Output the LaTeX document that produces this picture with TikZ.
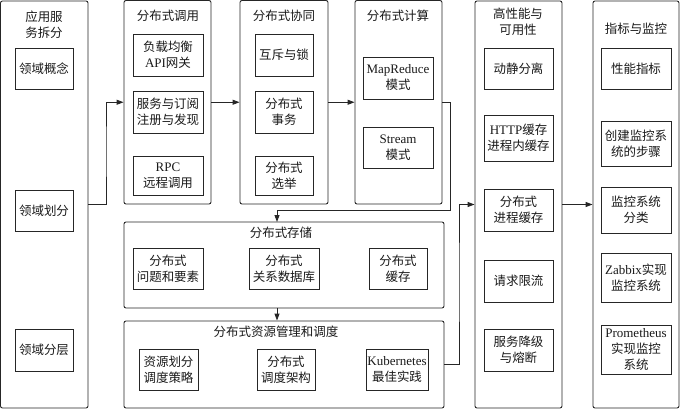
\documentclass[tikz,border=0pt]{standalone}
\usepackage{fontspec}
\setmainfont{Liberation Serif}
\newfontfamily\cjk[Scale=0.96]{Noto Sans CJK SC}
\newcommand\zh[1]{{\cjk #1}}
\usetikzlibrary{arrows.meta}
\begin{document}
\begin{tikzpicture}[x=1pt,y=-1pt,
 line/.style={draw=black!85, line width=0.9pt},
 cont/.style={line, rounded corners=2pt, inner sep=0pt},
 inbox/.style={line, inner sep=0pt, align=center, font=\fontsize{13}{16}\selectfont, text=black!90},
 ttl/.style={inner sep=0pt, align=center, font=\fontsize{13}{16}\selectfont, text=black!90},
 arr/.style={line, -{Triangle[length=7pt,width=5pt]}},
]
\useasboundingbox (0,0) rectangle (680,409);
% containers
\node[cont, minimum width=87.5pt, minimum height=407pt] (c1) at (44.25,204.5) {};
\node[cont, minimum width=87pt, minimum height=203.5pt] (c2) at (167.5,102.25) {};
\node[cont, minimum width=88pt, minimum height=203.5pt] (c3) at (284,102.25) {};
\node[cont, minimum width=87pt, minimum height=203.5pt] (c4) at (398.5,102.25) {};
\node[cont, minimum width=87pt, minimum height=407pt] (c5) at (518.5,204.5) {};
\node[cont, minimum width=86pt, minimum height=407pt] (c6) at (636,204.5) {};
\node[cont, minimum width=320pt, minimum height=86pt] (c7) at (284,265) {};
\node[cont, minimum width=320pt, minimum height=87pt] (c8) at (284,364.5) {};
% titles
\node[ttl] (t1) at (44,25) {\zh{应用服}\\\zh{务拆分}};
\node[ttl] (t2) at (168,16) {\zh{分布式调用}};
\node[ttl] (t3) at (284,16) {\zh{分布式协同}};
\node[ttl] (t4) at (398,16) {\zh{分布式计算}};
\node[ttl] (t5) at (518,22) {\zh{高性能与}\\\zh{可用性}};
\node[ttl] (t6) at (636,29) {\zh{指标与监控}};
\node[ttl] (t7) at (281,233) {\zh{分布式存储}};
\node[ttl] (t8) at (276,332) {\zh{分布式资源管理和调度}};
% column 1
\node[inbox, minimum width=58pt, minimum height=41pt] (a1) at (44,68.5) {\zh{领域概念}};
\node[inbox, minimum width=58pt, minimum height=41pt] (a2) at (44,210.5) {\zh{领域划分}};
\node[inbox, minimum width=58pt, minimum height=42pt] (a3) at (44,350) {\zh{领域分层}};
% column 2
\node[inbox, minimum width=70pt, minimum height=42pt] (b1) at (168,55) {\zh{负载均衡}\\API\zh{网关}};
\node[inbox, minimum width=70pt, minimum height=42pt] (b2) at (168,112) {\zh{服务与订阅}\\\zh{注册与发现}};
\node[inbox, minimum width=70pt, minimum height=39pt] (b3) at (168,175.5) {RPC\\\zh{远程调用}};
% column 3
\node[inbox, minimum width=58pt, minimum height=42pt] (d1) at (284,55) {\zh{互斥与锁}};
\node[inbox, minimum width=58pt, minimum height=42pt] (d2) at (284,112) {\zh{分布式}\\\zh{事务}};
\node[inbox, minimum width=58pt, minimum height=39pt] (d3) at (284,175.5) {\zh{分布式}\\\zh{选举}};
% column 4
\node[inbox, minimum width=70pt, minimum height=42pt] (e1) at (398,78) {MapReduce\\\zh{模式}};
\node[inbox, minimum width=70pt, minimum height=41pt] (e2) at (398,147.5) {Stream\\\zh{模式}};
% column 5
\node[inbox, minimum width=69pt, minimum height=41pt] (f1) at (518.5,68.5) {\zh{动静分离}};
\node[inbox, minimum width=69pt, minimum height=46pt] (f2) at (518.5,138) {HTTP\zh{缓存}\\\zh{进程内缓存}};
\node[inbox, minimum width=69pt, minimum height=42pt] (f3) at (518.5,210) {\zh{分布式}\\\zh{进程缓存}};
\node[inbox, minimum width=69pt, minimum height=42pt] (f4) at (518.5,281) {\zh{请求限流}};
\node[inbox, minimum width=69pt, minimum height=42pt] (f5) at (518.5,350) {\zh{服务降级}\\\zh{与熔断}};
% column 6
\node[inbox, minimum width=70pt, minimum height=41pt] (g1) at (636,68.5) {\zh{性能指标}};
\node[inbox, minimum width=70pt, minimum height=45pt] (g2) at (636,143.5) {\zh{创建监控系}\\\zh{统的步骤}};
\node[inbox, minimum width=70pt, minimum height=46pt] (g3) at (636,210) {\zh{监控系统}\\\zh{分类}};
\node[inbox, minimum width=70pt, minimum height=49pt] (g4) at (636,277.5) {Zabbix\zh{实现}\\\zh{监控系统}};
\node[inbox, minimum width=70pt, minimum height=49pt] (g5) at (636,349.5) {Prometheus\\\zh{实现监控}\\\zh{系统}};
% storage
\node[inbox, minimum width=70pt, minimum height=41pt] (s1) at (168,268.5) {\zh{分布式}\\\zh{问题和要素}};
\node[inbox, minimum width=70pt, minimum height=41pt] (s2) at (284,268.5) {\zh{分布式}\\\zh{关系数据库}};
\node[inbox, minimum width=58pt, minimum height=41pt] (s3) at (398,268.5) {\zh{分布式}\\\zh{缓存}};
% resource
\node[inbox, minimum width=59pt, minimum height=41pt] (r1) at (168.5,369.5) {\zh{资源划分}\\\zh{调度策略}};
\node[inbox, minimum width=58pt, minimum height=41pt] (r2) at (286,369.5) {\zh{分布式}\\\zh{调度架构}};
\node[inbox, minimum width=62pt, minimum height=41pt] (r3) at (397,369.5) {Kubernetes\\\zh{最佳实践}};
% junctions
\coordinate (j1) at (106,150);
\coordinate (j2) at (450,210);
\coordinate (j3) at (277,222);
\coordinate (j4) at (459,280);
% connectors
\draw[arr] (c1.east) -| (j1) |- (c2.west);
\draw[arr] (c2.east) -- (c3.west);
\draw[arr] (c3.east) -- (c4.west);
\draw[arr] (c4.east) -| (j2) -| (j3);
\draw[arr] (c7.south -| j3) -- (c8.north -| j3);
\draw[arr] (c8.east) -| (j4) |- (c5.west);
\draw[arr] (c5.east) -- (c6.west);
\end{tikzpicture}
\end{document}
